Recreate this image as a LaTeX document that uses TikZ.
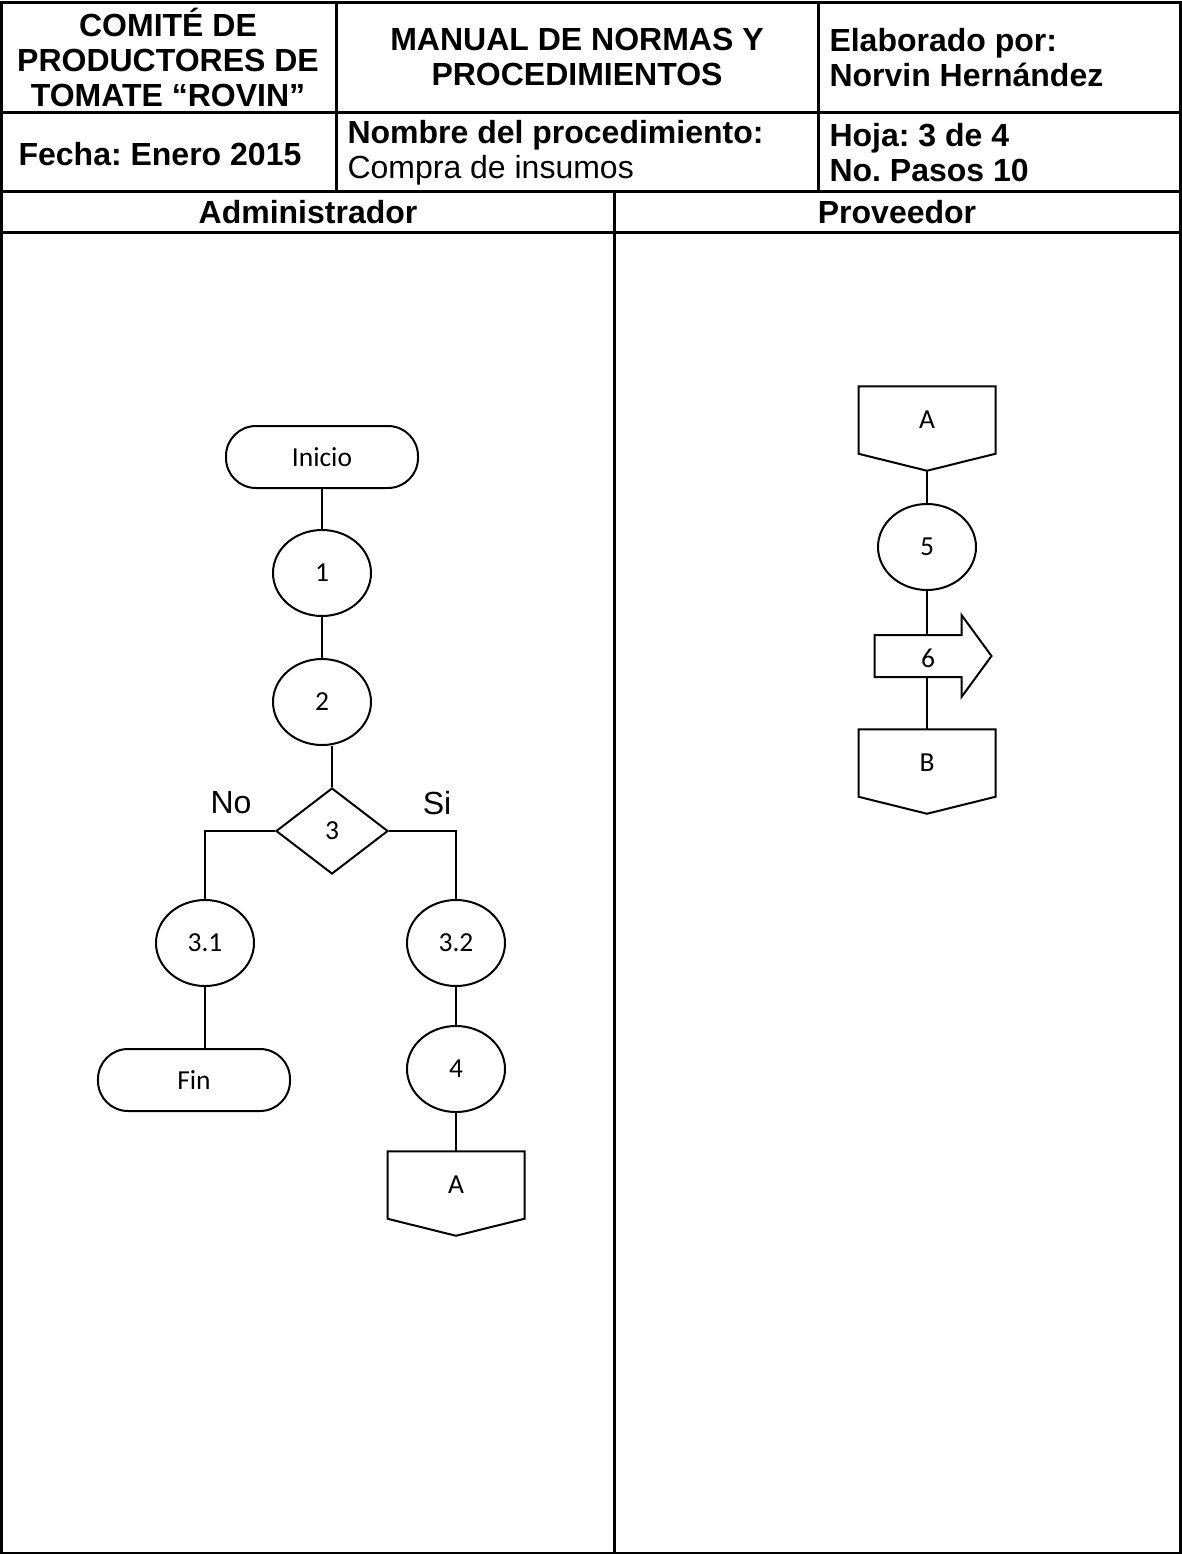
\documentclass[tikz,border=0pt]{standalone}
\usepackage{fontspec}
\setmainfont{Liberation Sans}
\newfontfamily\calibri{Carlito}
\usetikzlibrary{shapes, arrows, positioning}
\frenchspacing

\begin{document}
\begin{tikzpicture}[x=0.4pt, y=-0.4pt,
    borde/.style={line width=1.2pt},
    linea/.style={line width=0.8pt},
    cabecera/.style={font=\fontsize{12.8}{14}\selectfont\bfseries, align=center, inner sep=0pt},
    texto/.style={font=\calibri\fontsize{11}{13}\selectfont},
    terminal/.style={texto, rectangle, draw, line width=0.8pt, rounded corners=12pt, minimum width=76.8pt, minimum height=24.8pt},
    proceso/.style={texto, ellipse, draw, line width=0.8pt, minimum width=39.2pt, minimum height=34.4pt, inner sep=0pt},
    decision/.style={texto, diamond, draw, line width=0.8pt, aspect=1.3, minimum width=44.8pt, minimum height=34.4pt, inner sep=0pt},
    conector/.style={texto, rectangle, minimum width=54.4pt, minimum height=26.6pt, inner sep=0pt},
    cuerpo/.style={rectangle, minimum width=34.4pt, minimum height=16.4pt, inner sep=0pt},
    rotulo/.style={font=\fontsize{12.8}{14}\selectfont}
]
    \useasboundingbox (0,0) rectangle (1181,1554);

    % tabla de encabezado y carriles
    \draw[borde] (1,2) rectangle (1180,1553);
    \draw[borde] (1,112) -- (1180,112);
    \draw[borde] (1,191) -- (1180,191);
    \draw[borde] (1,232) -- (1180,232);
    \draw[borde] (336,2) -- (336,191);
    \draw[borde] (818,2) -- (818,191);
    \draw[borde] (614,191) -- (614,1553);

    \node[cabecera] (comite) at (168,57) {COMITÉ DE\\PRODUCTORES DE\\TOMATE “ROVIN”};
    \node[cabecera] (manual) at (577,57) {MANUAL DE NORMAS Y\\PROCEDIMIENTOS};
    \node[cabecera, align=left, anchor=west] (autor) at (829,58) {Elaborado por:\\Norvin Hernández};
    \node[cabecera] (fecha) at (160,154) {Fecha: Enero 2015};
    \node[cabecera, align=left, anchor=west] (nombre) at (347,153) {Nombre del procedimiento:\\\mdseries Compra de insumos};
    \node[cabecera, align=left, anchor=west] (hoja) at (829,153) {Hoja: 3 de 4\\No. Pasos 10};
    \node[cabecera] (admin) at (308,212) {Administrador};
    \node[cabecera] (prov) at (897,212) {Proveedor};

    % carril del administrador
    \node[terminal] (ini) at (322,457) {Inicio};
    \node[proceso] (p1) at (322,573) {1};
    \node[proceso] (p2) at (322,702) {2};
    \node[decision] (d3) at (332,831) {3};
    \node[rotulo] (lno) at (231,803) {No};
    \node[rotulo] (lsi) at (437,803) {Si};
    \node[proceso] (p31) at (205,943) {3.1};
    \node[proceso] (p32) at (456,943) {3.2};
    \node[terminal] (fin) at (194,1080) {Fin};
    \node[proceso] (p4) at (456,1069) {4};
    \node[conector] (A1) at (456,1185) {A};

    % carril del proveedor
    \node[conector] (A2) at (927,420) {A};
    \node[proceso] (p5) at (927,547) {5};
    \node[cuerpo] (f6) at (918,656) {};
    \node[texto] (t6) at (928,658) {6};
    \node[conector] (B) at (927,763) {B};

    % conectores de pagina
    \foreach \c in {A1, A2, B}
        \draw[linea] (\c.north west) -- (\c.north east) -- (\c.south east) -- ([yshift=-6.8pt]\c.south) -- (\c.south west) -- cycle;

    % flecha del paso 6
    \draw[linea] (f6.south west) -- (f6.north west) -- (f6.north east) -- ([yshift=8pt]f6.north east)
        -- ([xshift=12pt]f6.east) -- ([yshift=-8pt]f6.south east) -- (f6.south east) -- cycle;

    \draw[linea] (ini) -- (p1);
    \draw[linea] (p1) -- (p2);
    \draw[linea] (d3.north) -- (d3.north |- p2.south);
    \draw[linea] (d3.west) -| (p31.north);
    \draw[linea] (d3.east) -| (p32.north);
    \draw[linea] (p31) -- (p31 |- fin.north);
    \draw[linea] (p32) -- (p4);
    \draw[linea] (p4) -- (A1);
    \draw[linea] ([yshift=-6.8pt]A2.south) -- (p5);
    \draw[linea] (p5) -- (p5 |- f6.north);
    \draw[linea] (p5 |- f6.south) -- (B);
\end{tikzpicture}
\end{document}
